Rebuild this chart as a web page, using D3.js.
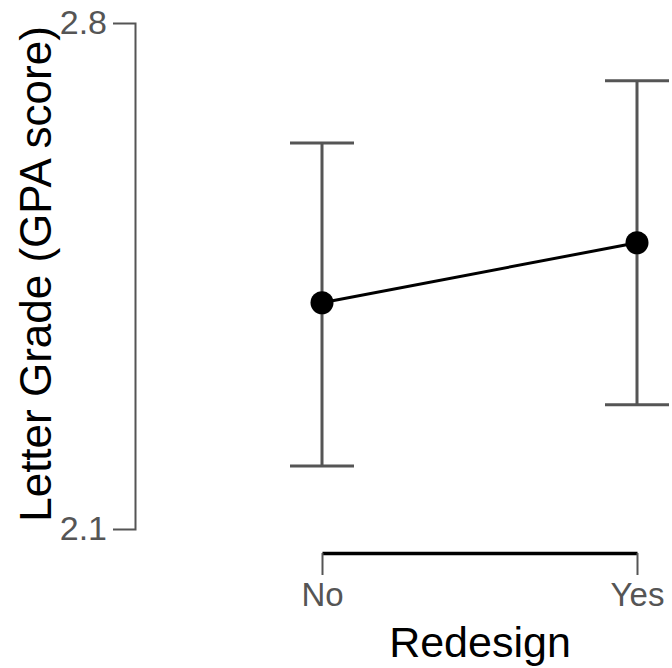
<!DOCTYPE html>
<html lang="en">
<head>
    <meta charset="UTF-8">
    <title>Letter Grade by Redesign</title>
    <style>
        body { margin: 0; background: #fff; }
        svg { display: block; font-family: "Liberation Sans", Arial, sans-serif; }
        .errbar { stroke: #555; stroke-width: 3; fill: none; }
        .mean-line { stroke: #000; stroke-width: 3; fill: none; }
        .dot { fill: #000; }
    </style>
</head>
<body>
    <svg id="chart" width="672" height="668"></svg>

    <script src="https://d3js.org/d3.v7.min.js"></script>
    <script>
        // data
        const groups = ["No", "Yes"];
        const means = [2.413, 2.496];
        const lower = [2.187, 2.272];
        const upper = [2.634, 2.720];
        const yTicks = [2.1, 2.8];

        const data = groups.map((g, i) => ({ group: g, mean: means[i], lo: lower[i], hi: upper[i] }));

        const svg = d3.select("#chart");

        const x = d3.scalePoint().domain(groups).range([322, 637]);
        const y = d3.scaleLinear().domain([2.1, 2.8]).range([529, 23]);

        // y axis (bracket style)
        const yAxis = svg.append("g")
            .attr("transform", "translate(135,0)")
            .call(d3.axisLeft(y).tickValues(yTicks).tickFormat(d3.format(".1f"))
                .tickSize(0).tickSizeOuter(22).tickPadding(28));
        yAxis.select(".domain").attr("stroke", "#555").attr("stroke-width", 2);
        yAxis.selectAll(".tick text")
            .attr("fill", "#555")
            .attr("font-size", 34)
            .attr("font-family", "Liberation Sans, Arial, sans-serif");

        // x axis
        const xAxis = svg.append("g")
            .attr("transform", "translate(0,553)")
            .call(d3.axisBottom(x).tickSize(22).tickSizeOuter(0).tickPadding(8));
        xAxis.select(".domain").attr("stroke", "#000").attr("stroke-width", 3.5);
        xAxis.selectAll(".tick line").attr("stroke", "#555").attr("stroke-width", 2);
        xAxis.selectAll(".tick text")
            .attr("fill", "#555")
            .attr("font-size", 33)
            .attr("font-family", "Liberation Sans, Arial, sans-serif");

        // error bars
        const capHalf = 32;
        const bars = svg.append("g");
        bars.selectAll(".vline")
            .data(data)
            .enter().append("line")
            .attr("class", "errbar")
            .attr("x1", d => x(d.group)).attr("x2", d => x(d.group))
            .attr("y1", d => y(d.lo)).attr("y2", d => y(d.hi));
        bars.selectAll(".capTop")
            .data(data)
            .enter().append("line")
            .attr("class", "errbar")
            .attr("x1", d => x(d.group) - capHalf).attr("x2", d => x(d.group) + capHalf)
            .attr("y1", d => y(d.hi)).attr("y2", d => y(d.hi));
        bars.selectAll(".capBot")
            .data(data)
            .enter().append("line")
            .attr("class", "errbar")
            .attr("x1", d => x(d.group) - capHalf).attr("x2", d => x(d.group) + capHalf)
            .attr("y1", d => y(d.lo)).attr("y2", d => y(d.lo));

        // connecting line and means
        const line = d3.line().x(d => x(d.group)).y(d => y(d.mean));
        svg.append("path")
            .datum(data)
            .attr("class", "mean-line")
            .attr("d", line);

        svg.selectAll(".dot")
            .data(data)
            .enter().append("circle")
            .attr("class", "dot")
            .attr("cx", d => x(d.group))
            .attr("cy", d => y(d.mean))
            .attr("r", 11.5);

        // axis titles
        svg.append("text")
            .attr("x", 480)
            .attr("y", 657)
            .attr("text-anchor", "middle")
            .attr("font-size", 43)
            .attr("fill", "#000")
            .text("Redesign");

        svg.append("text")
            .attr("transform", "translate(51,274) rotate(-90)")
            .attr("text-anchor", "middle")
            .attr("font-size", 44)
            .attr("fill", "#000")
            .text("Letter Grade (GPA score)");
    </script>
</body>
</html>
